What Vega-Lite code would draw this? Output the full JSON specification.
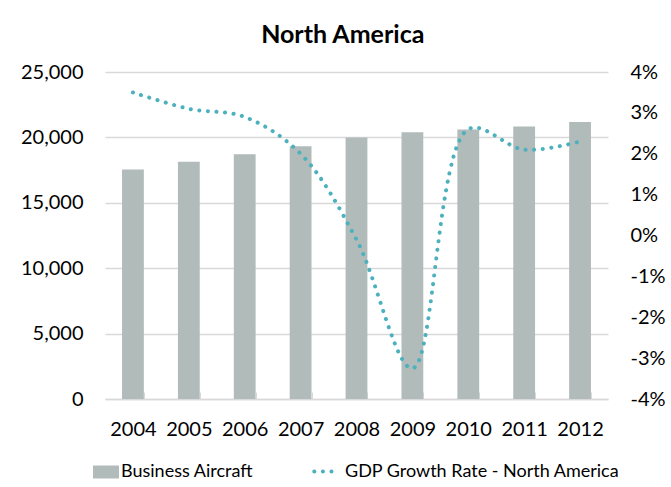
{
  "$schema": "https://vega.github.io/schema/vega-lite/v6.json",
  "autosize": {"type": "none"},
  "width": 503,
  "height": 327,
  "padding": {"left": 105, "top": 72, "right": 63, "bottom": 88},
  "background": "white",
  "title": {"text": "North America", "font": "Lato", "fontSize": 25, "fontWeight": "bold", "color": "#000000", "anchor": "middle", "frame": "bounds", "offset": 14},
  "config": {
    "font": "Lato",
    "view": {"stroke": null},
    "axis": {"labelFont": "Lato", "labelFontSize": 20, "labelColor": "#000000", "title": null},
    "legend": {"orient": "bottom", "direction": "horizontal", "labelFont": "Lato", "labelFontSize": 18, "labelColor": "#000000", "labelLimit": 400, "title": null, "offset": 20, "layout": {"bottom": {"anchor": "middle", "direction": "horizontal", "margin": 58}}}
  },
  "data": {"values": [
    {"year": "2004", "aircraft": 17540, "gdp": 3.5},
    {"year": "2005", "aircraft": 18130, "gdp": 3.1},
    {"year": "2006", "aircraft": 18720, "gdp": 2.9},
    {"year": "2007", "aircraft": 19330, "gdp": 2.0},
    {"year": "2008", "aircraft": 20000, "gdp": -0.1},
    {"year": "2009", "aircraft": 20400, "gdp": -3.25},
    {"year": "2010", "aircraft": 20610, "gdp": 2.6},
    {"year": "2011", "aircraft": 20840, "gdp": 2.1},
    {"year": "2012", "aircraft": 21170, "gdp": 2.3}
  ]},
  "encoding": {
    "x": {"field": "year", "type": "ordinal", "scale": {"paddingInner": 0.61, "paddingOuter": 0.305},
      "axis": {"labelAngle": 0, "domain": true, "domainColor": "#d9d9d9", "domainWidth": 1.5, "ticks": true, "tickColor": "#d9d9d9", "tickSize": -7, "tickBand": "extent", "labelPadding": 27, "grid": false}}
  },
  "layer": [
    {
      "mark": {"type": "bar"},
      "encoding": {
        "y": {"field": "aircraft", "type": "quantitative", "scale": {"domain": [0, 25000], "nice": false},
          "axis": {"orient": "left", "values": [0, 5000, 10000, 15000, 20000, 25000], "format": ",.0f", "domain": false, "ticks": false, "grid": true, "gridColor": "#d9d9d9", "gridWidth": 1.5, "labelPadding": 22}},
        "fill": {"datum": "Business Aircraft", "type": "nominal", "scale": {"range": ["#b0bbba"]},
          "legend": {"symbolType": "M-1,-0.5H1V0.5H-1Z", "symbolSize": 676, "symbolStrokeWidth": 0, "labelOffset": 2}}
      }
    },
    {
      "mark": {"type": "line", "interpolate": "catmull-rom", "strokeWidth": 4, "strokeDash": [0.1, 8.5], "strokeCap": "round"},
      "encoding": {
        "y": {"field": "gdp", "type": "quantitative", "scale": {"domain": [-4, 4], "nice": false},
          "axis": {"orient": "right", "values": [-4, -3, -2, -1, 0, 1, 2, 3, 4], "labelExpr": "datum.value + '%'", "domain": false, "ticks": false, "grid": false, "labelPadding": 22}},
        "stroke": {"datum": "GDP Growth Rate - North America", "type": "nominal", "scale": {"range": ["#4cb1bd"]},
          "legend": {"symbolType": "stroke", "symbolSize": 420, "symbolStrokeWidth": 4, "symbolDash": [0.1, 8.5], "labelOffset": 8,
            "encode": {"symbols": {"update": {"strokeCap": {"value": "round"}}}}}}
      }
    }
  ],
  "resolve": {"scale": {"y": "independent", "fill": "independent", "stroke": "independent"}}
}
